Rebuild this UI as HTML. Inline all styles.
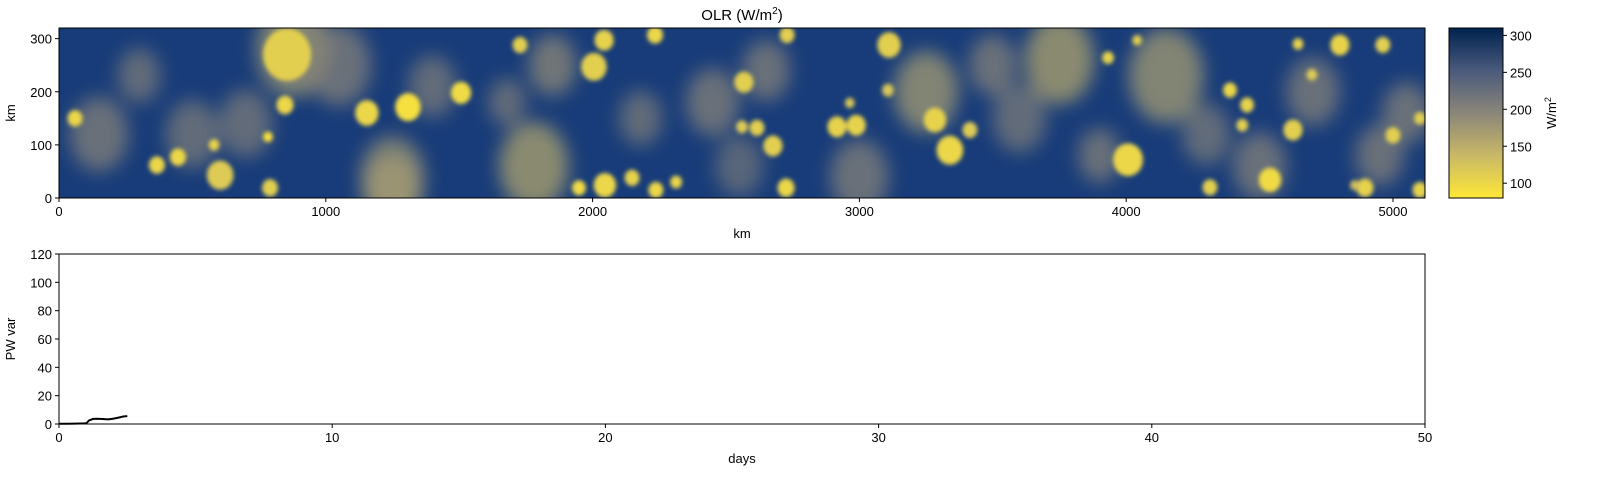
<!DOCTYPE html>
<html><head><meta charset="utf-8"><style>
body{margin:0;background:#fff;width:1600px;height:480px;overflow:hidden;font-family:"Liberation Sans",sans-serif}
svg text{font-family:"Liberation Sans",sans-serif;font-size:13px;fill:#000}
</style></head><body>
<svg id="chart" width="1600" height="480" xmlns="http://www.w3.org/2000/svg">
<defs>
<filter id="bs" x="-50%" y="-50%" width="200%" height="200%"><feGaussianBlur stdDeviation="2"/></filter>
<filter id="bh" x="-80%" y="-80%" width="260%" height="260%"><feGaussianBlur stdDeviation="9"/></filter>
<clipPath id="hc"><rect x="59" y="28" width="1366" height="170"/></clipPath>
<linearGradient id="cg" x1="0" y1="1" x2="0" y2="0">
<stop offset="0" stop-color="#fee838"/><stop offset="0.25" stop-color="#c9b866"/><stop offset="0.5" stop-color="#8a8679"/><stop offset="0.75" stop-color="#4a5a7c"/><stop offset="1" stop-color="#00224e"/>
</linearGradient>
</defs>
<text x="742" y="20" text-anchor="middle" style="font-size:15px">OLR (W/m<tspan dy="-6" style="font-size:10px">2</tspan><tspan dy="6">)</tspan></text>
<g id="heat" clip-path="url(#hc)"><rect x="59" y="28" width="1366" height="170" fill="#183c79"/></g>
<rect x="59" y="28" width="1366" height="170" fill="none" stroke="#000"/>
<g id="topticks"></g>
<text x="742" y="238" text-anchor="middle">km</text>
<text transform="translate(15,113) rotate(-90)" text-anchor="middle">km</text>
<rect x="1449" y="28" width="54" height="170" fill="url(#cg)" stroke="#000"/>
<g id="cbticks"></g>
<text transform="translate(1556,113) rotate(-90)" text-anchor="middle">W/m<tspan dy="-5" style="font-size:9px">2</tspan></text>
<rect x="59" y="254" width="1366" height="170" fill="none" stroke="#000"/>
<g id="botticks"></g>
<text x="742" y="463" text-anchor="middle">days</text>
<text transform="translate(15,339) rotate(-90)" text-anchor="middle">PW var</text>
<path id="pwline" fill="none" stroke="#000" stroke-width="2"/>
</svg>
<script>
// heatmap blobs: x km, y km, radius-x km, radius-y km, OLR value
const blobX=[60,855,1308,1507,847,1154,783,446,367,581,604,791,1728,2005,2043,1949,2046,2148,2234,2237,2313,2567,2616,2560,2676,2725,2729,2916,2988,2964,3111,3107,3339,3283,3414,3932,4041,4007,4389,4453,4435,4539,4625,4644,4696,4801,4962,5101,5101,4895,5000,4857,4314,3591];
const blobY=[150,270,171,198,175,160,115,77,62,100,43,19,288,247,297,19,24,38,307,15,30,218,132,134,98,19,307,134,137,179,288,203,90,147,128,264,297,72,203,175,137,34,128,290,232,288,288,150,15,19,118,24,20];
const blobR=[28,90,48,38,32,44,18,30,30,20,50,30,28,48,36,26,42,28,30,28,22,36,28,22,36,32,28,36,36,18,44,22,50,42,28,22,18,56,26,26,22,42,36,20,20,36,28,22,28,32,28,18,28,36];
const blobV=[100,110,90,95,100,100,85,100,100,105,115,110,110,110,105,95,100,105,100,100,100,110,110,115,110,100,110,105,105,120,110,120,100,105,115,105,110,100,100,105,110,95,110,105,115,105,110,110,105,105,110,130,110,120];
// haze: x km, y km, r km, OLR value
const hazeX=[150,880,1050,500,1250,1780,1850,2180,2450,2650,3000,3250,3500,3750,3900,4150,4300,4700,4950,5050,300,700,1400,2550,3600,4500,1680,1250];
const hazeY=[120,280,250,120,40,60,250,150,180,240,40,200,250,260,80,230,120,200,80,160,230,140,210,60,150,60,180,10];
const hazeR=[110,140,120,100,120,130,90,80,100,90,110,120,90,130,80,140,90,100,90,90,80,100,90,90,100,100,70,110];
const hazeV=[200,170,200,210,180,160,190,210,200,200,200,170,200,160,200,170,210,200,200,200,210,210,210,220,210,200,210,170];
// colorbar
const cbTicks=[100,150,200,250,300];
// top axes ticks
const kmTicksX=[0,1000,2000,3000,4000,5000];
const kmTicksY=[0,100,200,300];
// bottom line
const days=[0,0.3,0.6,0.9,1.0,1.1,1.25,1.4,1.6,1.8,2.0,2.2,2.35,2.5];
const pwvar=[0.2,0.2,0.3,0.4,0.5,2.5,3.6,3.7,3.5,3.3,3.8,4.6,5.3,5.6];
const dayTicks=[0,10,20,30,40,50];
const pwTicks=[0,20,40,60,80,100,120];

const NS="http://www.w3.org/2000/svg";
const kx=v=>59+v*1366/5120, ky=v=>198-v*170/320;
const cbY=v=>198-(v-80)*170/230;
const dx=v=>59+v*1366/50, py=v=>424-v*170/120;
const stops=[[80,[254,232,56]],[137.5,[201,184,102]],[195,[138,134,121]],[252.5,[74,90,124]],[310,[0,34,78]]];
function col(v){for(let i=0;i<stops.length-1;i++){const a=stops[i],b=stops[i+1];if(v<=b[0]){const t=Math.max(0,(v-a[0])/(b[0]-a[0]));return 'rgb('+a[1].map((c,j)=>Math.round(c+(b[1][j]-c)*t)).join(',')+')';}}return 'rgb(0,34,78)';}
function mk(tag,attrs,parent){const e=document.createElementNS(NS,tag);for(const k in attrs)e.setAttribute(k,attrs[k]);parent.appendChild(e);return e;}
const heat=document.getElementById('heat');
const hg=mk('g',{filter:'url(#bh)'},heat);
hazeX.forEach((x,i)=>{const e=mk('ellipse',{cx:kx(x),cy:ky(hazeY[i]),rx:hazeR[i]*1366/5120,ry:hazeR[i]*0.4*170/320*1.6,fill:col(hazeV[i]),opacity:0.75},hg);

});
const bg=mk('g',{filter:'url(#bs)'},heat);
blobX.forEach((x,i)=>{const e=mk('ellipse',{cx:kx(x),cy:ky(blobY[i]),rx:blobR[i]*1366/5120,ry:blobR[i]*0.55*170/320,fill:col(blobV[i])},bg);

});
function tickX(g,vals,f,y0,lbl){vals.forEach(v=>{mk('line',{x1:f(v),x2:f(v),y1:y0,y2:y0+4,stroke:'#000'},g);const t=mk('text',{x:f(v),y:y0+18,'text-anchor':'middle'},g);t.textContent=v;

});}
function tickY(g,vals,f,x0,lbl,right){vals.forEach(v=>{mk('line',{x1:x0,x2:right?x0+4:x0-4,y1:f(v),y2:f(v),stroke:'#000'},g);const t=mk('text',{x:right?x0+7:x0-7,y:f(v)+5,'text-anchor':right?'start':'end'},g);t.textContent=v;

});}
const tt=document.getElementById('topticks');
tickX(tt,kmTicksX,kx,198,'top-x-tick-label');tickY(tt,kmTicksY,ky,59,'top-y-tick-label');
tickY(document.getElementById('cbticks'),cbTicks,cbY,1503,'colorbar-tick-label',true);
const bt=document.getElementById('botticks');
tickX(bt,dayTicks,dx,424,'bottom-x-tick-label');tickY(bt,pwTicks,py,59,'bottom-y-tick-label');
document.getElementById('pwline').setAttribute('d',days.map((d,i)=>(i?'L':'M')+dx(d)+','+py(pwvar[i])).join(''));
</script>
</body></html>
